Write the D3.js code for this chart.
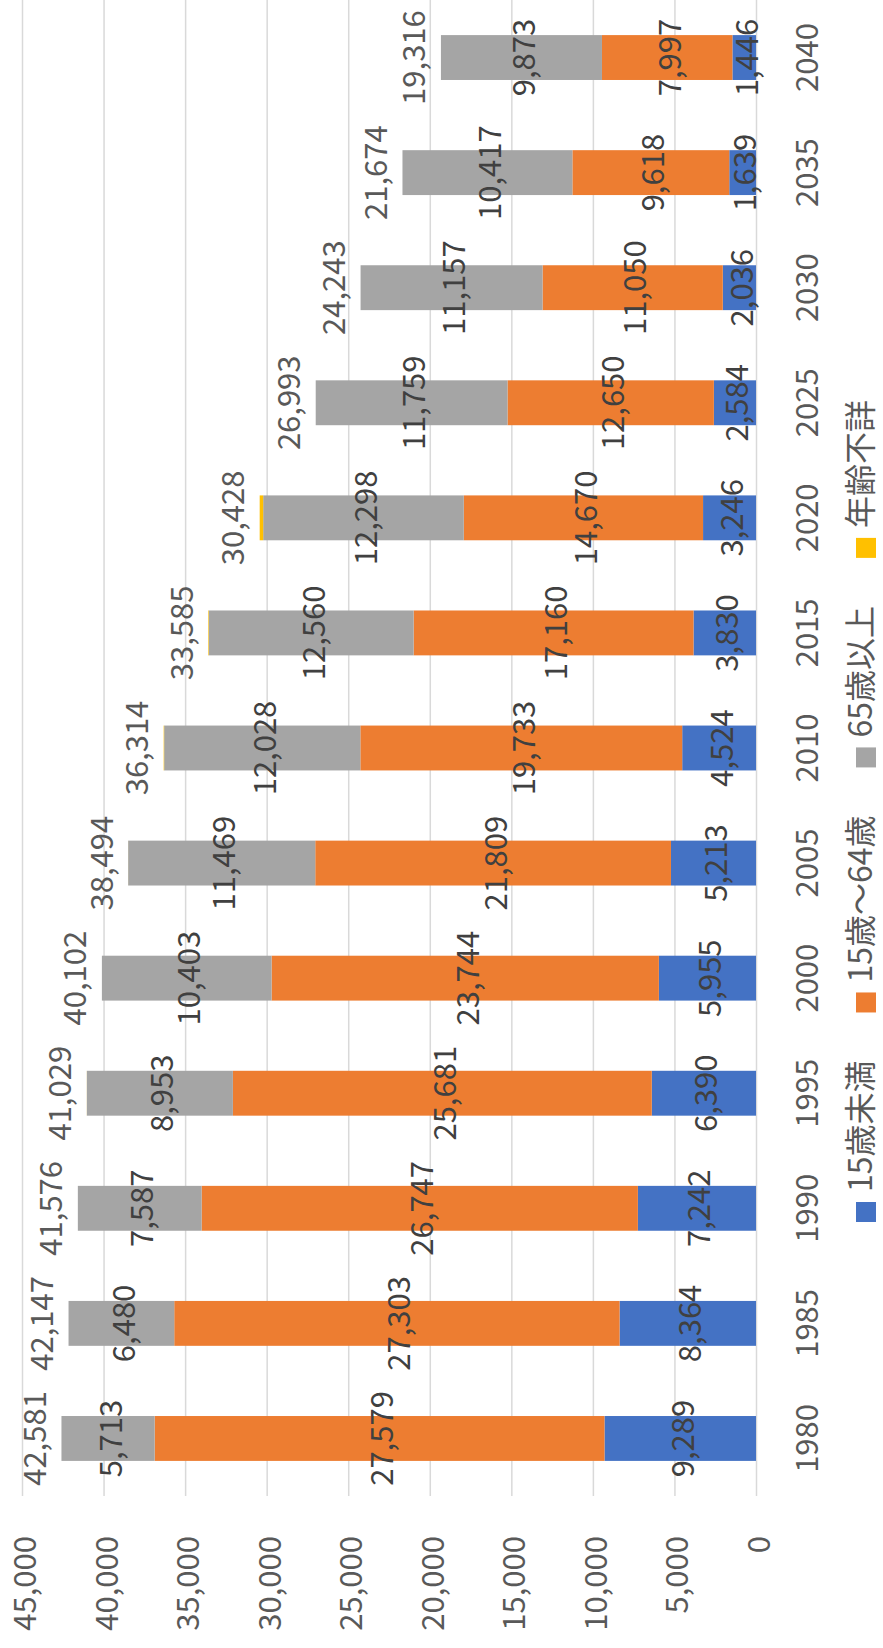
<!DOCTYPE html>
<html><head><meta charset="utf-8">
<script src="https://cdn.jsdelivr.net/npm/d3@7"></script>
<style>body{margin:0;background:#fff} svg{display:block}</style>
</head><body>
<svg id="c" width="883" height="1648"></svg>
<script>
const years    = ["1980","1985","1990","1995","2000","2005","2010","2015","2020","2025","2030","2035","2040"];
const under15  = [9289, 8364, 7242, 6390, 5955, 5213, 4524, 3830, 3246, 2584, 2036, 1639, 1446];
const working  = [27579, 27303, 26747, 25681, 23744, 21809, 19733, 17160, 14670, 12650, 11050, 9618, 7997];
const elderly  = [5713, 6480, 7587, 8953, 10403, 11469, 12028, 12560, 12298, 11759, 11157, 10417, 9873];
const unknown  = [0, 0, 0, 5, 0, 3, 29, 35, 214, 0, 0, 0, 0];
const totals   = [42581, 42147, 41576, 41029, 40102, 38494, 36314, 33585, 30428, 26993, 24243, 21674, 19316];
const seriesNames = ["15歳未満", "15歳～64歳", "65歳以上", "年齢不詳"];
const seriesColors = ["#4472C4", "#ED7D31", "#A5A5A5", "#FFC000"];
const valueTicks = [0, 5000, 10000, 15000, 20000, 25000, 30000, 35000, 40000, 45000];

const W = 1648, H = 883;
const FONT = "'Noto Sans CJK JP','Noto Sans',sans-serif";
const TXT = "#595959";

const svg = d3.select("#c");
svg.append("rect").attr("width", 883).attr("height", 1648).attr("fill", "#fff");
// chart drawn in an unrotated frame, then turned 90° counter-clockwise
const g = svg.append("g").attr("transform", `rotate(-90) translate(${-W},0)`);

const x = d3.scaleBand().domain(years).range([152, 1648]).paddingInner(0.61).paddingOuter(0.305);
const y = d3.scaleLinear().domain([0, 45000]).range([756, 22]);

const keys = ["u15", "work", "old", "unk"];
const rows = years.map((yr, i) => ({year: yr, u15: under15[i], work: working[i], old: elderly[i], unk: unknown[i], total: totals[i]}));
const stacked = d3.stack().keys(keys)(rows);

// value axis with gridlines
const yAxis = g.append("g").attr("transform", "translate(152,0)")
  .call(d3.axisLeft(y).tickValues(valueTicks).tickSize(-1496).tickPadding(40).tickFormat(d3.format(",")));
yAxis.select(".domain").remove();
yAxis.selectAll("line").attr("stroke", "#D9D9D9").attr("stroke-width", 1.5);
yAxis.selectAll("text").attr("fill", TXT).attr("font-family", FONT).attr("font-size", 31)
  .attr("dy", null).attr("dominant-baseline", "central");

// bars
const layers = g.append("g").selectAll("g").data(stacked).join("g")
  .attr("fill", (d, i) => seriesColors[i]);
layers.selectAll("rect").data(d => d).join("rect")
  .attr("x", d => x(d.data.year))
  .attr("width", x.bandwidth())
  .attr("y", d => y(d[1]))
  .attr("height", d => Math.max(0, y(d[0]) - y(d[1])));

// segment labels
const lab = g.append("g").attr("font-family", FONT).attr("font-size", 31).attr("fill", "#404040")
  .attr("text-anchor", "middle").attr("dominant-baseline", "central");
stacked.slice(0, 3).forEach(layer => {
  lab.selectAll(null).data(layer).join("text")
    .attr("x", d => x(d.data.year) + x.bandwidth() / 2)
    .attr("y", d => (y(d[0]) + y(d[1])) / 2)
    .text(d => d3.format(",")(d[1] - d[0]));
});

// totals
g.append("g").selectAll("text").data(rows).join("text")
  .attr("font-family", FONT).attr("font-size", 31).attr("fill", TXT)
  .attr("text-anchor", "middle").attr("dominant-baseline", "central")
  .attr("x", d => x(d.year) + x.bandwidth() / 2)
  .attr("y", d => y(d.total) - 29)
  .text(d => d3.format(",")(d.total));

// category axis
const xAxis = g.append("g").attr("transform", "translate(0,756)")
  .call(d3.axisBottom(x).tickSize(0).tickPadding(0));
xAxis.select(".domain").remove();
xAxis.selectAll("text").attr("fill", TXT).attr("font-family", FONT).attr("font-size", 31)
  .attr("y", 48).attr("dy", null).attr("dominant-baseline", "central");

// legend
const leg = g.append("g");
let cx = 426;
seriesNames.forEach((name, i) => {
  leg.append("rect").attr("x", cx).attr("y", 856).attr("width", 20).attr("height", 20).attr("fill", seriesColors[i]);
  const t = leg.append("text").attr("x", cx + 30).attr("y", 858).attr("dominant-baseline", "central")
    .attr("font-family", FONT).attr("font-size", 32).attr("fill", TXT).text(name);
  cx += 30 + t.node().getComputedTextLength() + 48;
});
</script>
</body></html>
